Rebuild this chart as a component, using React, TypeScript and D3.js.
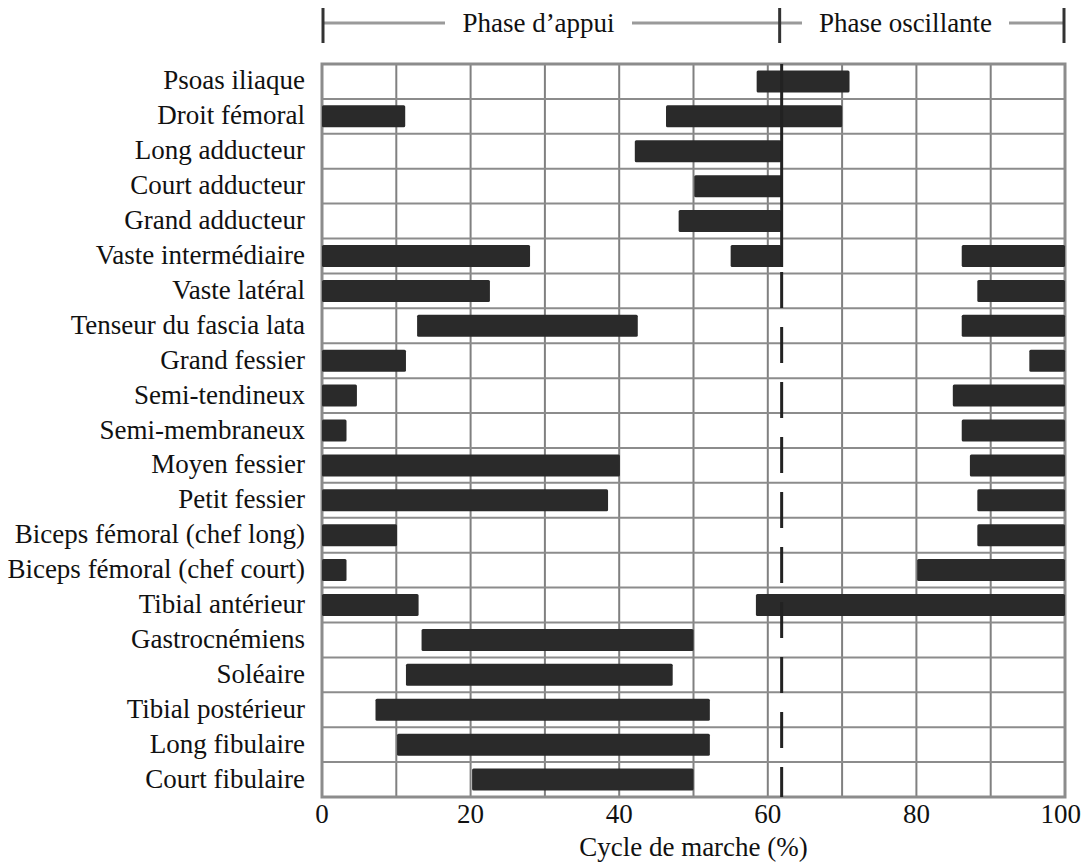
import React from 'react';
import * as d3 from 'd3';

const muscles = [
  'Psoas iliaque',
  'Droit fémoral',
  'Long adducteur',
  'Court adducteur',
  'Grand adducteur',
  'Vaste intermédiaire',
  'Vaste latéral',
  'Tenseur du fascia lata',
  'Grand fessier',
  'Semi-tendineux',
  'Semi-membraneux',
  'Moyen fessier',
  'Petit fessier',
  'Biceps fémoral (chef long)',
  'Biceps fémoral (chef court)',
  'Tibial antérieur',
  'Gastrocnémiens',
  'Soléaire',
  'Tibial postérieur',
  'Long fibulaire',
  'Court fibulaire',
];

// active intervals (% of gait cycle), one list per muscle
const activity: [number, number][][] = [
  [[58.5, 71]],
  [[0, 11.2], [46.3, 70]],
  [[42.1, 61.8]],
  [[50.1, 62]],
  [[48, 61.8]],
  [[0, 28], [55, 61.8], [86.1, 100]],
  [[0, 22.6], [88.2, 100]],
  [[12.8, 42.5], [86.1, 100]],
  [[0, 11.3], [95.2, 100]],
  [[0, 4.7], [84.9, 100]],
  [[0, 3.3], [86.1, 100]],
  [[0, 40.1], [87.2, 100]],
  [[0, 38.5], [88.2, 100]],
  [[0, 10.1], [88.2, 100]],
  [[0, 3.3], [80.1, 100]],
  [[0, 13], [58.4, 100]],
  [[13.4, 50]],
  [[11.3, 47.2]],
  [[7.2, 52.2]],
  [[10.1, 52.2]],
  [[20.2, 50]],
];

const xTicks = [0, 20, 40, 60, 80, 100];
const gridTicks = d3.range(0, 101, 10);
const toeOff = 62;
const phases = [
  { label: 'Phase d\u2019appui', from: 0, to: toeOff },
  { label: 'Phase oscillante', from: toeOff, to: 100 },
];

const W = 1085;
const H = 863;
const left = 322;
const right = 1065;
const top = 64;
const bottom = 797;
const textStyle: React.CSSProperties = {
  fontFamily: "'Liberation Serif', 'DejaVu Serif', 'Times New Roman', serif",
  fontSize: '27px',
  fill: '#111',
};

export default function App() {
  const x = d3.scaleLinear().domain([0, 100]).range([left, right]);
  const y = d3.scaleBand<string>().domain(muscles).range([top, bottom]).padding(0);
  const bh = 22;

  const splitRow = muscles[5];
  const solidEnd = (y(splitRow) as number) + y.bandwidth() / 2 + bh / 2;

  // header text gaps
  const headerY = 23;
  const gaps = [
    [445, 632],
    [802, 1009],
  ];

  return (
    <svg width={W} height={H} style={{ position: 'absolute', left: 0, top: 0, background: '#fff' }}>
      {/* header */}
      <g>
        <line x1={x(0)} x2={gaps[0][0]} y1={headerY} y2={headerY} stroke="#9a9a9a" strokeWidth={3} />
        <line x1={gaps[0][1]} x2={gaps[1][0]} y1={headerY} y2={headerY} stroke="#9a9a9a" strokeWidth={3} />
        <line x1={gaps[1][1]} x2={x(100)} y1={headerY} y2={headerY} stroke="#9a9a9a" strokeWidth={3} />
        {[0, toeOff, 100].map((v) => {
          const off = v === toeOff ? -3 : v === 100 ? -1 : 1;
          return <line key={v} x1={x(v) + off} x2={x(v) + off} y1={8} y2={43} stroke="#333" strokeWidth={3} />;
        })}
        {phases.map((p, i) => (
          <text key={p.label} x={(gaps[i][0] + gaps[i][1]) / 2} y={32} textAnchor="middle" style={textStyle}>
            {p.label}
          </text>
        ))}
      </g>

      {/* grid */}
      <g>
        {gridTicks.map((t) => (
          <line key={'v' + t} x1={x(t)} x2={x(t)} y1={top} y2={bottom} stroke="#808080" strokeWidth={2} />
        ))}
        {muscles.slice(1).map((m) => (
          <line key={'h' + m} x1={left} x2={right} y1={y(m)} y2={y(m)} stroke="#8c8c8c" strokeWidth={2} />
        ))}
        <rect x={left} y={top} width={right - left} height={bottom - top} fill="none" stroke="#8c8c8c" strokeWidth={3} />
      </g>

      {/* bars */}
      <g>
        {muscles.map((m, i) =>
          activity[i].map(([a, b], j) => (
            <rect
              key={m + j}
              x={x(a)}
              width={x(b) - x(a)}
              y={(y(m) as number) + y.bandwidth() / 2 - bh / 2}
              height={bh}
              rx={1.5}
              fill="#2a2a2a"
            />
          ))
        )}
      </g>

      {/* toe-off line */}
      <line x1={x(toeOff) - 1} x2={x(toeOff) - 1} y1={top} y2={solidEnd} stroke="#222" strokeWidth={3} />
      <line x1={x(toeOff) - 1} x2={x(toeOff) - 1} y1={solidEnd + 5} y2={bottom} stroke="#222" strokeWidth={3} strokeDasharray="36 19" />

      {/* muscle labels */}
      <g>
        {muscles.map((m) => (
          <text key={m} x={305} y={(y(m) as number) + y.bandwidth() / 2 + 8} textAnchor="end" style={textStyle}>
            {m}
          </text>
        ))}
      </g>

      {/* x axis */}
      <g>
        {xTicks.map((t) => (
          <text key={t} x={x(t)} y={823} textAnchor={t === 100 ? 'end' : 'middle'} dx={t === 100 ? 16 : 0} style={textStyle}>
            {t}
          </text>
        ))}
        <text x={(left + right) / 2} y={856} textAnchor="middle" style={textStyle}>
          Cycle de marche (%)
        </text>
      </g>
    </svg>
  );
}
